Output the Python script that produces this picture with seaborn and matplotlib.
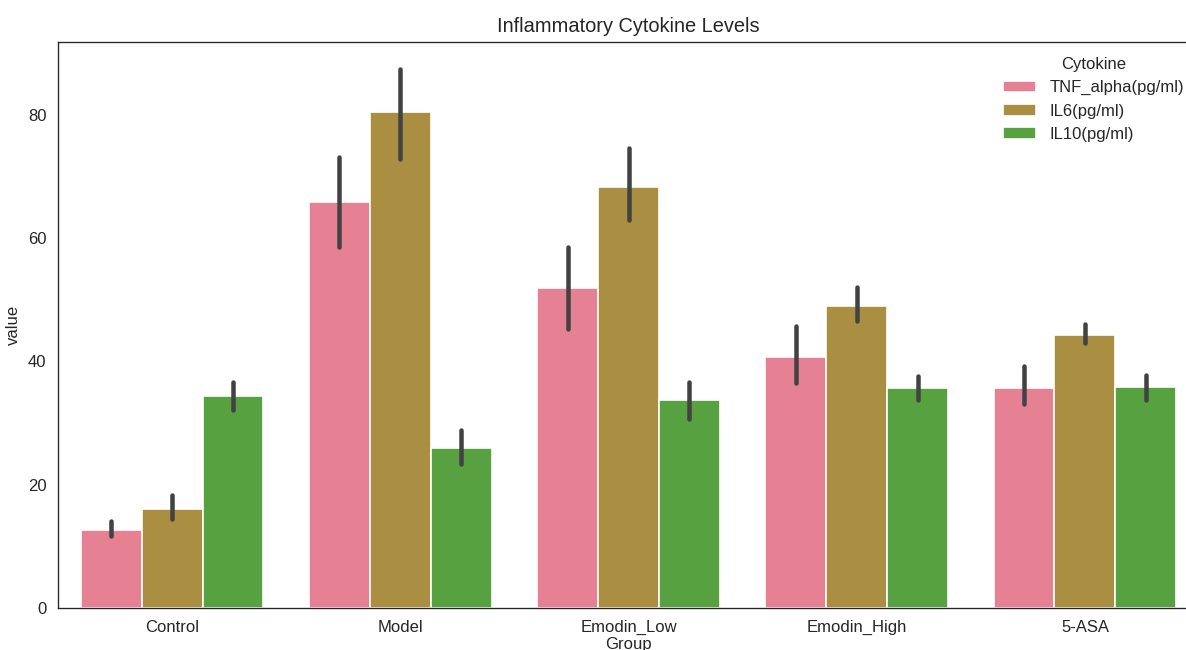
import matplotlib
matplotlib.use("Agg")
import matplotlib.pyplot as plt
import seaborn as sns
import pandas as pd

groups = ["Control", "Model", "Emodin_Low", "Emodin_High", "5-ASA"]
cytokines = ["TNF_alpha(pg/ml)", "IL6(pg/ml)", "IL10(pg/ml)"]

tnf_mean = [12.7, 65.8, 51.9, 40.7, 35.7]
il6_mean = [16.1, 80.5, 68.3, 49.0, 44.3]
il10_mean = [34.3, 25.9, 33.8, 35.6, 35.8]

tnf_lo = [11.7, 58.5, 45.2, 36.5, 33.0]
tnf_hi = [14.1, 73.2, 58.5, 45.7, 39.2]
il6_lo = [14.4, 72.8, 62.9, 46.5, 43.0]
il6_hi = [18.25, 87.4, 74.6, 52.1, 46.1]
il10_lo = [32.1, 23.4, 30.6, 33.8, 33.8]
il10_hi = [36.7, 28.9, 36.6, 37.6, 37.7]

means = [tnf_mean, il6_mean, il10_mean]
lows = [tnf_lo, il6_lo, il10_lo]
highs = [tnf_hi, il6_hi, il10_hi]

rows = []
for c, m in zip(cytokines, means):
    for g, v in zip(groups, m):
        rows.append({"Group": g, "Cytokine": c, "value": v})
df = pd.DataFrame(rows)

sns.set_style("white")
plt.rcParams["font.family"] = ["Liberation Sans", "DejaVu Sans"]

W, H, DPI = 1186, 650, 120
fig = plt.figure(figsize=(W / DPI, H / DPI), dpi=DPI)
ax = fig.add_axes([58 / W, (H - 608) / H, (1199 - 58) / W, (608 - 42) / H])

palette = sns.color_palette("husl", 6)[:3]
sns.barplot(data=df, x="Group", y="value", hue="Cytokine", order=groups,
            hue_order=cytokines, palette=palette, errorbar=None, ax=ax)

for cont, lo, hi in zip(ax.containers, lows, highs):
    for bar, l, h in zip(cont, lo, hi):
        xc = bar.get_x() + bar.get_width() / 2
        ax.plot([xc, xc], [l, h], color=".26", lw=2.7, solid_capstyle="round")

ax.set_xlim(-0.5, 4.5)
ax.set_ylim(0, 87.4 * 1.05)
ax.set_xlabel("Group", labelpad=1.5)
ax.set_title("Inflammatory Cytokine Levels")
ax.legend(title="Cytokine", loc="upper right", frameon=False)

fig.savefig("out.png", dpi=DPI)
